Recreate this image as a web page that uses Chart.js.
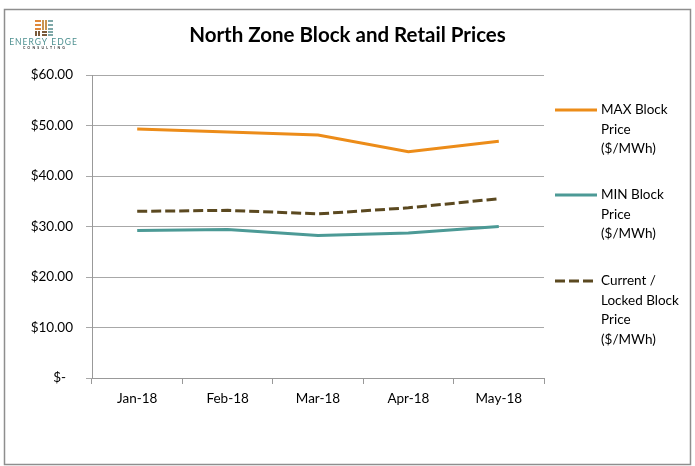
<!DOCTYPE html>
<html>
<head>
<meta charset="utf-8">
<script src="https://cdn.jsdelivr.net/npm/chart.js@4/dist/chart.umd.min.js"></script>
<style>
  html, body { margin: 0; padding: 0; background: #fff; }
  #wrap { position: relative; width: 695px; height: 466px; }
</style>
</head>
<body>
<div id="wrap"><canvas id="c" width="695" height="466"></canvas></div>
<script>
const categories = ['Jan-18', 'Feb-18', 'Mar-18', 'Apr-18', 'May-18'];
const maxBlock = [49.3, 48.7, 48.1, 44.8, 46.9];
const minBlock = [29.2, 29.4, 28.2, 28.7, 30.0];
const currentBlock = [33.0, 33.2, 32.5, 33.7, 35.5];
const seriesNames = [
  ['MAX Block', 'Price', '($/MWh)'],
  ['MIN Block', 'Price', '($/MWh)'],
  ['Current /', 'Locked Block', 'Price', '($/MWh)']
];
const chartTitle = 'North Zone Block and Retail Prices';
const yTicks = [0, 10, 20, 30, 40, 50, 60];

const FONT = 'Lato, "Liberation Sans", sans-serif';
const C_ORANGE = '#EC8C19';
const C_TEAL = '#4C9A96';
const C_BROWN = '#5B4920';

const decor = {
  id: 'decor',
  afterDraw(chart) {
    const ctx = chart.ctx;
    ctx.save();
    // outer border
    ctx.strokeStyle = '#8e8e8e';
    ctx.lineWidth = 1.5;
    ctx.strokeRect(4.5, 9.5, 686, 455);
    // title
    ctx.fillStyle = '#000';
    ctx.font = 'bold 20.5px ' + FONT;
    ctx.textAlign = 'center';
    ctx.textBaseline = 'middle';
    ctx.fillText(chartTitle, 347.5, 35);
    // logo icon
    const ix = 35, iy = 20;
    ctx.fillStyle = '#E0883A';
    ctx.fillRect(ix, iy, 6, 2); ctx.fillRect(ix, iy + 4, 6, 2); ctx.fillRect(ix, iy + 8, 6, 2);
    ctx.fillStyle = '#7A5A3A';
    ctx.fillRect(ix, iy + 11, 2, 5); ctx.fillRect(ix + 3, iy + 11, 2, 5);
    ctx.fillRect(ix + 7, iy + 11, 5, 2); ctx.fillRect(ix + 7, iy + 14, 5, 2);
    ctx.fillStyle = '#C9944F';
    ctx.fillRect(ix + 7, iy, 2, 10); ctx.fillRect(ix + 10, iy, 2, 10);
    ctx.fillStyle = '#7FA8A8';
    ctx.fillRect(ix + 13, iy, 5, 2); ctx.fillRect(ix + 13, iy + 4, 5, 2); ctx.fillRect(ix + 13, iy + 8, 5, 2);
    ctx.fillRect(ix + 13, iy + 11, 5, 2); ctx.fillRect(ix + 13, iy + 14, 5, 2);
    ctx.fillStyle = '#4E9090';
    ctx.font = '8.5px ' + FONT;
    ctx.letterSpacing = '1px';
    ctx.textAlign = 'center';
    ctx.fillText('ENERGY EDGE', 43.5, 42);
    ctx.fillStyle = '#333';
    ctx.font = 'bold 3.5px ' + FONT;
    ctx.letterSpacing = '2.2px';
    ctx.fillText('CONSULTING', 45, 48);
    ctx.letterSpacing = '0px';
    // legend
    const items = [
      { color: C_ORANGE, dash: [], y: 110 },
      { color: C_TEAL, dash: [], y: 195 },
      { color: C_BROWN, dash: [10, 4], y: 281 }
    ];
    ctx.font = '13.5px ' + FONT;
    ctx.textAlign = 'left';
    ctx.textBaseline = 'middle';
    items.forEach((it, i) => {
      ctx.beginPath();
      ctx.strokeStyle = it.color;
      ctx.lineWidth = 3;
      ctx.setLineDash(it.dash);
      ctx.moveTo(555, it.y);
      ctx.lineTo(597, it.y);
      ctx.stroke();
      ctx.setLineDash([]);
      ctx.fillStyle = '#000';
      seriesNames[i].forEach((t, k) => ctx.fillText(t, 601, it.y + k * 19.5));
    });
    ctx.restore();
  }
};

new Chart(document.getElementById('c'), {
  type: 'line',
  data: {
    labels: categories,
    datasets: [
      { label: seriesNames[0].join(' '), data: maxBlock, borderColor: C_ORANGE, borderWidth: 3 },
      { label: seriesNames[1].join(' '), data: minBlock, borderColor: C_TEAL, borderWidth: 3 },
      { label: seriesNames[2].join(' '), data: currentBlock, borderColor: C_BROWN, borderWidth: 3, borderDash: [10, 4] }
    ]
  },
  options: {
    responsive: false,
    animation: false,
    elements: { point: { radius: 0 }, line: { tension: 0, fill: false } },
    layout: { padding: { left: 0, top: 75, right: 151, bottom: 48 } },
    plugins: { legend: { display: false }, title: { display: false }, tooltip: { enabled: false } },
    scales: {
      x: {
        offset: true,
        grid: { offset: true, drawOnChartArea: false, drawTicks: true, tickLength: 6, color: '#999' },
        border: { color: '#999', width: 1 },
        ticks: { color: '#000', font: { family: FONT, size: 13.5 }, padding: 7, maxRotation: 0 },
        afterFit(s) { s.height = 40; }
      },
      y: {
        min: 0, max: 60,
        afterBuildTicks(s) { s.ticks = yTicks.map(v => ({ value: v })); },
        grid: { color: '#a8a8a8', tickLength: 6 },
        border: { color: '#999', width: 1 },
        ticks: {
          color: '#000', font: { family: FONT, size: 13.5 }, padding: 13,
          callback: v => v === 0 ? '$-  ' : '$' + v.toFixed(2)
        },
        afterFit(s) { s.width = 92; }
      }
    }
  },
  plugins: [decor]
});
</script>
</body>
</html>
